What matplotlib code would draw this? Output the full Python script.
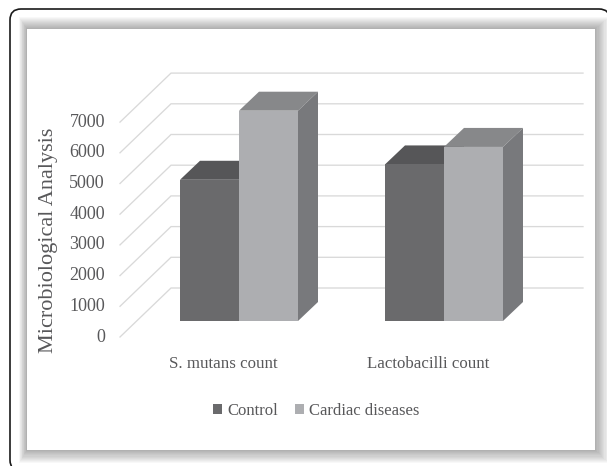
import matplotlib
matplotlib.use('Agg')
import matplotlib.pyplot as plt
from matplotlib.patches import FancyBboxPatch, Polygon, Rectangle

categories = ['S. mutans count', 'Lactobacilli count']
series_names = ['Control', 'Cardiac diseases']
control = [4600, 5100]
cardiac = [6850, 5670]
yticks = [0, 1000, 2000, 3000, 4000, 5000, 6000, 7000]

W, H = 607, 466
PX_X = 205.0     # pixels per category
PX_Y = 0.0307    # pixels per count
X0, Y0 = 239.0, 321.0
BAR_W = 59 / PX_X
BAR_DX, BAR_DY = 20 / PX_X, 19 / PX_Y

front_col = ['#6a6a6c', '#adaeb1']
top_col = ['#565658', '#87888a']
side_col = ['#505052', '#78797c']
text_col = '#58585a'
grid_col = '#d9d9d9'
font = 'Liberation Serif'

fig = plt.figure(figsize=(W / 100, H / 100), dpi=100)

# page furniture drawn in pixel coords
bg = fig.add_axes([0, 0, 1, 1])
bg.set_xlim(0, W)
bg.set_ylim(H, 0)
bg.axis('off')
# outer box runs off the right and bottom of the picture
bg.add_patch(FancyBboxPatch((10, 9), 600, 462, boxstyle='round,pad=0,rounding_size=11',
                            fc='white', ec='#1a1a1a', lw=1.2))
# soft shadow round the panel
n_shadow = 12
for i in range(n_shadow):
    f = (n_shadow - i) / n_shadow
    left, top, right, bottom = 27 - 8 * f, 29 - 12 * f, 595 + 14 * f, 450 + 13 * f
    bg.add_patch(Rectangle((left, top), right - left, bottom - top,
                           fc='#000000', ec='none', alpha=0.028))
bg.add_patch(Rectangle((27, 29), 568, 421, fc='white', ec='none'))

ax = fig.add_axes([0, 0, 1, 1])
ax.patch.set_alpha(0)
ax.set_xlim((0 - X0) / PX_X, (W - X0) / PX_X)
ax.set_ylim((Y0 - H) / PX_Y, Y0 / PX_Y)
ax.axis('off')

# walls: slanted floor lines + back lines
x_front = (120 - X0) / PX_X
x_back = (171 - X0) / PX_X
x_right = (583 - X0) / PX_X
front_off = -16 / PX_Y
back_off = 33 / PX_Y
for v in yticks:
    ax.plot([x_front, x_back, x_right], [v + front_off, v + back_off, v + back_off],
            color=grid_col, lw=0.95, solid_joinstyle='miter', zorder=1)
    ax.text((105 - X0) / PX_X, v + front_off, str(v), ha='right', va='center',
            family=font, fontsize=13, color=text_col)


def bar3d(x0, v, i):
    x1 = x0 + BAR_W
    ax.add_patch(Polygon([(x0, v), (x0 + BAR_DX, v + BAR_DY), (x1 + BAR_DX, v + BAR_DY), (x1, v)],
                         fc=top_col[i], ec='none', zorder=3))
    ax.add_patch(Polygon([(x1, 0), (x1 + BAR_DX, BAR_DY), (x1 + BAR_DX, v + BAR_DY), (x1, v)],
                         fc=side_col[i], ec='none', zorder=3))
    ax.add_patch(Rectangle((x0, 0), BAR_W, v, fc=front_col[i], ec='none', zorder=4))


for k in range(len(categories)):
    bar3d(k - BAR_W, control[k], 0)
    bar3d(k, cardiac[k], 1)
    ax.text(k - 0.075, (321 - 364) / PX_Y, categories[k], ha='center', va='center',
            family=font, fontsize=12.2, color=text_col)

ax.text((49 - X0) / PX_X, (321 - 240) / PX_Y, 'Microbiological Analysis', rotation=90,
        ha='center', va='center', family=font, fontsize=16, color=text_col)

handles = [Rectangle((0, 0), 1, 1, fc=c, ec='none') for c in front_col]
ax.legend(handles, series_names, loc='center', ncols=2, frameon=False,
          bbox_to_anchor=(316 / W, 1 - 411 / H), handlelength=0.55, handleheight=0.55,
          handletextpad=0.3, columnspacing=1.0,
          prop={'family': font, 'size': 12}, labelcolor=text_col)

fig.savefig('out.png', dpi=100)
